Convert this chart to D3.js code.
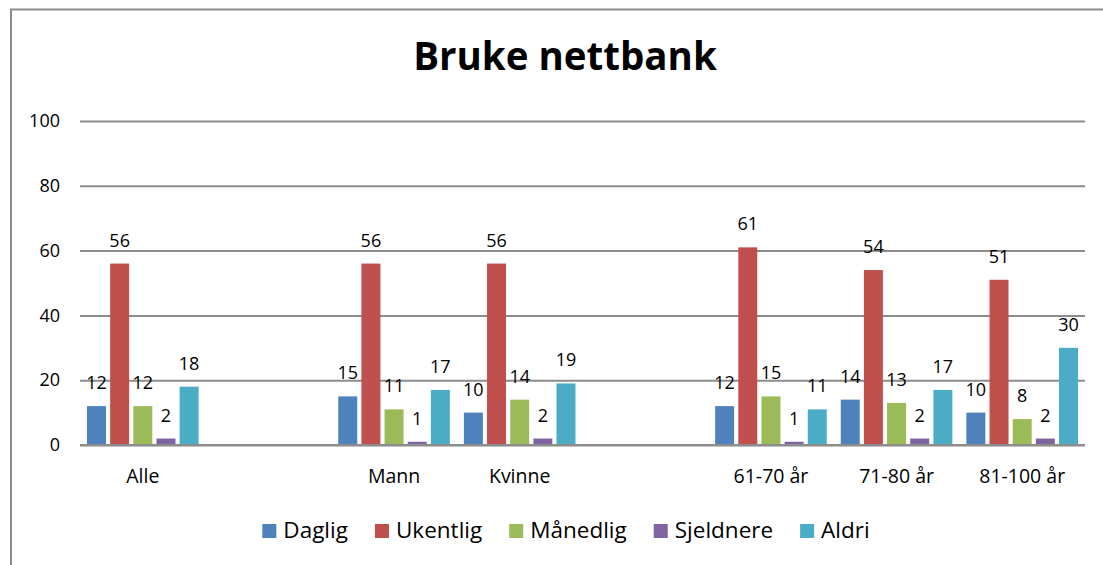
<!DOCTYPE html>
<html lang="en">
<head>
    <meta charset="UTF-8">
    <title>Bruke nettbank</title>
    <script src="https://d3js.org/d3.v7.min.js"></script>
    <style>
        body { margin: 0; background: #fff; }
        text { font-family: "Open Sans", Lato, sans-serif; fill: #000; }
    </style>
</head>
<body>
<div id="chart"></div>
<script>
    // categories (empty strings are spacer slots in the original chart)
    const categories = ["Alle", "", "Mann", "Kvinne", "", "61-70 år", "71-80 år", "81-100 år"];
    const seriesNames = ["Daglig", "Ukentlig", "Månedlig", "Sjeldnere", "Aldri"];
    const seriesColors = ["#4F81BD", "#C0504D", "#9BBB59", "#8064A2", "#4BACC6"];

    const daglig    = [12, null, 15, 10, null, 12, 14, 10];
    const ukentlig  = [56, null, 56, 56, null, 61, 54, 51];
    const maanedlig = [12, null, 11, 14, null, 15, 13, 8];
    const sjeldnere = [2, null, 1, 2, null, 1, 2, 2];
    const aldri     = [18, null, 17, 19, null, 11, 17, 30];
    const seriesValues = [daglig, ukentlig, maanedlig, sjeldnere, aldri];

    const yTicks = [0, 20, 40, 60, 80, 100];

    const width = 1103, height = 565;
    const plot = {left: 80, right: 1085, top: 121, bottom: 445};

    const svg = d3.select("#chart").append("svg")
        .attr("width", width)
        .attr("height", height);

    // chart frame (only top and left edges visible)
    svg.append("path")
        .attr("d", `M11,${height} L11,9.5 L${width},9.5`)
        .attr("fill", "none")
        .attr("stroke", "#8c8c8c")
        .attr("stroke-width", 2);

    svg.append("text")
        .attr("x", 565)
        .attr("y", 70)
        .attr("text-anchor", "middle")
        .attr("font-size", 38.5)
        .attr("font-weight", "bold")
        .text("Bruke nettbank");

    const x = d3.scaleBand()
        .domain(categories.map((c, i) => i))
        .range([plot.left, plot.right]);

    const xs = d3.scaleBand()
        .domain(seriesNames.map((s, i) => i))
        .range([7, x.bandwidth() - 7])
        .paddingInner(0.18);

    const y = d3.scaleLinear()
        .domain([0, 100])
        .range([plot.bottom, plot.top]);

    // gridlines + y labels
    const yAxis = svg.append("g")
        .attr("transform", `translate(${plot.left},0)`)
        .call(d3.axisLeft(y).tickValues(yTicks)
            .tickSize(-(plot.right - plot.left)).tickPadding(20));
    yAxis.select(".domain").remove();
    yAxis.selectAll("line").attr("stroke", "#8c8c8c").attr("stroke-width", 2);
    yAxis.selectAll("text")
        .attr("font-size", 18)
        .attr("font-family", "'Open Sans', sans-serif")
        .attr("fill", "#000");

    // bars
    seriesValues.forEach((vals, s) => {
        const g = svg.append("g");
        const pts = vals.map((v, i) => ({i, v})).filter(d => d.v !== null);
        g.selectAll("rect")
            .data(pts)
            .enter().append("rect")
            .attr("x", d => x(d.i) + xs(s))
            .attr("y", d => y(d.v))
            .attr("width", xs.bandwidth())
            .attr("height", d => y(0) - y(d.v))
            .attr("fill", seriesColors[s]);
        g.selectAll("text")
            .data(pts)
            .enter().append("text")
            .attr("x", d => x(d.i) + xs(s) + xs.bandwidth() / 2)
            .attr("y", d => y(d.v) - 17)
            .attr("text-anchor", "middle")
            .attr("font-size", 18)
            .text(d => d.v);
    });

    // baseline redrawn on top
    svg.append("line")
        .attr("x1", plot.left).attr("x2", plot.right)
        .attr("y1", y(0)).attr("y2", y(0))
        .attr("stroke", "#8c8c8c")
        .attr("stroke-width", 2);

    // category labels
    svg.append("g").selectAll("text")
        .data(categories.map((c, i) => ({c, i})).filter(d => d.c))
        .enter().append("text")
        .attr("x", d => x(d.i) + x.bandwidth() / 2)
        .attr("y", 483)
        .attr("text-anchor", "middle")
        .attr("font-size", 19.5)
        .text(d => d.c);

    // legend
    const legend = svg.append("g");
    let lx = 0;
    seriesNames.forEach((name, s) => {
        const item = legend.append("g").attr("transform", `translate(${lx},0)`);
        item.append("rect")
            .attr("x", 0).attr("y", -14)
            .attr("width", 14).attr("height", 14)
            .attr("fill", seriesColors[s]);
        const t = item.append("text")
            .attr("x", 21).attr("y", 0)
            .attr("font-size", 22.5)
            .text(name);
        lx += 21 + t.node().getComputedTextLength() + 27;
    });
    const legendW = lx - 27;
    legend.attr("transform", `translate(${566 - legendW / 2},538)`);
</script>
</body>
</html>
